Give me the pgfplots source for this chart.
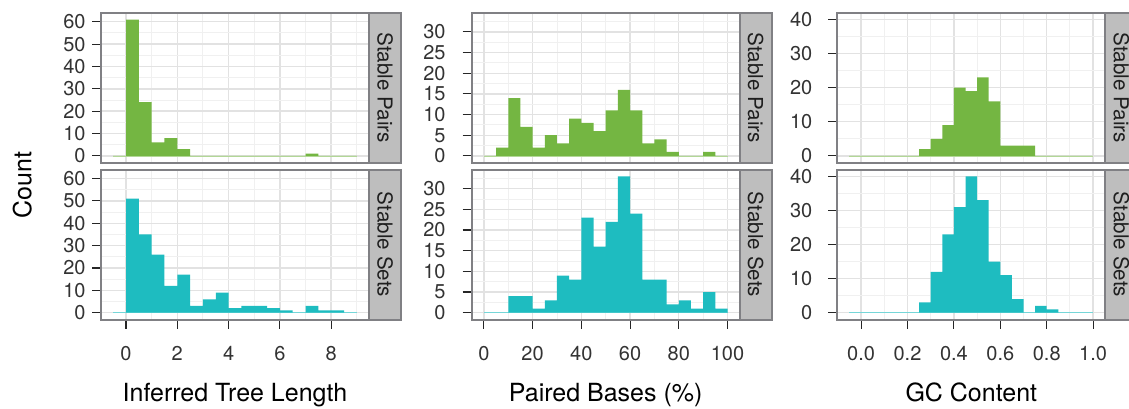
\documentclass[border=0pt]{standalone}
\usepackage{pgfplots}
\pgfplotsset{compat=1.18}
\usepackage{fontspec}
\setmainfont{TeX Gyre Heros}

\definecolor{cgreen}{RGB}{116,182,66}
\definecolor{cteal}{RGB}{30,188,192}
\definecolor{pborder}{RGB}{128,128,132}
\definecolor{stripfill}{RGB}{190,190,190}
\definecolor{gridmaj}{RGB}{226,226,226}
\definecolor{gridmin}{RGB}{240,240,240}

\pgfplotsset{
  panel/.style={
    scale only axis, width=134pt, height=75pt, anchor=north west,
    axis line style={draw=pborder, line width=1pt},
    tick align=outside, tick pos=left,
    major tick length=4.5pt, minor tick length=0pt,
    major tick style={black!85, line width=0.55pt},
    grid=both,
    major grid style={gridmaj, line width=0.7pt},
    minor grid style={gridmin, line width=0.45pt},
    tick label style={font=\fontsize{10}{12}\selectfont, text=black!80, inner sep=0pt},
    /pgf/number format/assume math mode=true,
    scaled ticks=false,
    xlabel style={at={(axis description cs:0.5,0)}, anchor=base, yshift=-41.1pt,
                  font=\fontsize{12.5}{15}\selectfont, inner sep=0pt},
  },
  toprow/.style={xmajorticks=false},
  botrow/.style={xticklabel style={anchor=north, yshift=-8.9pt}},
  colA/.style={xmin=-0.975, xmax=9.475, ymin=-3.05, ymax=64.05,
    xtick={0,2,4,6,8}, minor xtick={1,3,5,7,9},
    ytick={0,10,...,60}, minor ytick={5,15,...,55},
    yticklabel style={anchor=east, xshift=-3pt}},
  colB/.style={xmin=-5, xmax=105, ymin=-1.65, ymax=34.65,
    xtick={0,20,...,100}, minor xtick={10,30,...,90},
    ytick={0,5,...,30}, minor ytick={2.5,7.5,...,32.5},
    yticklabel style={anchor=east, xshift=-8.35pt}},
  colC/.style={xmin=-0.1025, xmax=1.0525, ymin=-2, ymax=42,
    xtick={0,0.2,0.4,0.6,0.8,1.0}, xticklabels={0.0,0.2,0.4,0.6,0.8,1.0},
    minor xtick={0.1,0.3,0.5,0.7,0.9},
    ytick={0,10,...,40}, minor ytick={5,15,...,35},
    yticklabel style={anchor=east, xshift=-7.8pt}},
}

\begin{document}
\begin{tikzpicture}
% ---------- Column A: Inferred Tree Length ----------
\begin{axis}[panel, toprow, colA, name=tA, at={(50.5pt,-6.35pt)}]
\addplot[cgreen!55, line width=0.35pt] coordinates {(-0.5,0) (9,0)};
\addplot[ybar interval, fill=cgreen, draw=none] coordinates {
(-0.5,0)(0,61)(0.5,24)(1,6)(1.5,8)(2,3)(2.5,0)(3,0)(3.5,0)(4,0)(4.5,0)(5,0)(5.5,0)(6,0)(6.5,0)(7,1)(7.5,0)(8,0)(8.5,0)(9,0)};
\end{axis}
\begin{axis}[panel, botrow, colA, name=bA, at={(50.5pt,-84.75pt)}, xlabel={Inferred Tree Length}]
\addplot[cteal!55, line width=0.35pt] coordinates {(-0.5,0) (9,0)};
\addplot[ybar interval, fill=cteal, draw=none] coordinates {
(-0.5,0)(0,51)(0.5,35)(1,26)(1.5,12)(2,17)(2.5,3)(3,6)(3.5,9)(4,2)(4.5,3)(5,3)(5.5,2)(6,1)(6.5,0)(7,3)(7.5,1)(8,1)(8.5,0)(9,0)};
\end{axis}
% ---------- Column B: Paired Bases ----------
\begin{axis}[panel, toprow, colB, name=tB, at={(235.85pt,-6.35pt)}]
\addplot[cgreen!55, line width=0.35pt] coordinates {(0,0) (100,0)};
\addplot[ybar interval, fill=cgreen, draw=none] coordinates {
(0,0)(5,2)(10,14)(15,7)(20,2)(25,5)(30,3)(35,9)(40,8)(45,6)(50,11)(55,16)(60,11)(65,3)(70,4)(75,1)(80,0)(85,0)(90,1)(95,0)(100,0)};
\end{axis}
\begin{axis}[panel, botrow, colB, name=bB, at={(235.85pt,-84.75pt)}, xlabel={Paired Bases (\%)}]
\addplot[cteal!55, line width=0.35pt] coordinates {(0,0) (100,0)};
\addplot[ybar interval, fill=cteal, draw=none] coordinates {
(0,0)(5,0)(10,4)(15,4)(20,1)(25,3)(30,9)(35,8)(40,23)(45,16)(50,22)(55,33)(60,24)(65,8)(70,8)(75,2)(80,3)(85,1)(90,5)(95,1)(100,0)};
\end{axis}
% ---------- Column C: GC Content ----------
\begin{axis}[panel, toprow, colC, name=tC, at={(418.65pt,-6.35pt)}]
\addplot[cgreen!55, line width=0.35pt] coordinates {(-0.05,0) (1,0)};
\addplot[ybar interval, fill=cgreen, draw=none] coordinates {
(-0.05,0)(0,0)(0.05,0)(0.1,0)(0.15,0)(0.2,0)(0.25,2)(0.3,5)(0.35,9)(0.4,20)(0.45,19)(0.5,23)(0.55,16)(0.6,3)(0.65,3)(0.7,3)(0.75,0)(0.8,0)(0.85,0)(0.9,0)(0.95,0)(1.0,0)};
\end{axis}
\begin{axis}[panel, botrow, colC, name=bC, at={(418.65pt,-84.75pt)}, xlabel={GC Content}]
\addplot[cteal!55, line width=0.35pt] coordinates {(-0.05,0) (1,0)};
\addplot[ybar interval, fill=cteal, draw=none] coordinates {
(-0.05,0)(0,0)(0.05,0)(0.1,0)(0.15,0)(0.2,0)(0.25,3)(0.3,12)(0.35,23)(0.4,31)(0.45,40)(0.5,33)(0.55,15)(0.6,11)(0.65,4)(0.7,0)(0.75,2)(0.8,1)(0.85,0)(0.9,0)(0.95,0)(1.0,0)};
\end{axis}
% ---------- Strips ----------
\foreach \ax/\lab in {tA/Stable Pairs, bA/Stable Sets, tB/Stable Pairs, bB/Stable Sets, tC/Stable Pairs, bC/Stable Sets}{
  \draw[fill=stripfill, draw=pborder, line width=1pt] (\ax.north east) rectangle ([xshift=16pt]\ax.south east);
  \node[rotate=-90, font=\fontsize{10.3}{12}\selectfont, text=black!88, inner sep=0pt] at ([xshift=8pt]\ax.east) {\lab};
}
% ---------- Count ----------
\node[rotate=90, font=\fontsize{12.5}{15}\selectfont, inner sep=0pt] at (11.1pt,-92.5pt) {Count};
\pgfresetboundingbox
\useasboundingbox (0pt,0pt) rectangle (564.5pt,-204pt);
\end{tikzpicture}
\end{document}
